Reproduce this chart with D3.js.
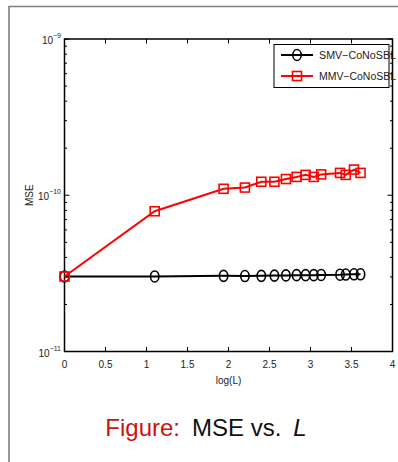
<!DOCTYPE html>
<html lang="en">
<head>
  <meta charset="UTF-8">
  <title>MSE vs. L</title>
  <script src="https://d3js.org/d3.v7.min.js"></script>
  <style>
    body { margin: 0; background: #fff; }
    #svgScene { display: block; }
    text { font-family: "Liberation Sans", Arial, sans-serif; }
  </style>
</head>
<body>
  <svg id="svgScene" width="398" height="462"></svg>

  <script>
    // data
    const logL = [0, 1.10, 1.94, 2.20, 2.40, 2.56, 2.70, 2.83, 2.94, 3.04, 3.13, 3.36, 3.43, 3.53, 3.61];
    const smvMse = [3.02e-11, 3.02e-11, 3.05e-11, 3.04e-11, 3.05e-11, 3.06e-11, 3.07e-11, 3.08e-11, 3.08e-11, 3.08e-11, 3.09e-11, 3.10e-11, 3.11e-11, 3.12e-11, 3.12e-11];
    const mmvMse = [3.02e-11, 7.9e-11, 1.10e-10, 1.12e-10, 1.22e-10, 1.22e-10, 1.27e-10, 1.31e-10, 1.35e-10, 1.31e-10, 1.36e-10, 1.39e-10, 1.35e-10, 1.46e-10, 1.39e-10];
    const xTicks = [0, 0.5, 1, 1.5, 2, 2.5, 3, 3.5, 4];
    const yExponents = [-9, -10, -11];
    const seriesNames = ["SMV\u2212CoNoSBL", "MMV\u2212CoNoSBL"];

    const svgScene = d3.select("#svgScene");
    const plot = { left: 64.5, right: 392.5, top: 39, bottom: 351.5 };

    const xScale = d3.scaleLinear().domain([0, 4]).range([plot.left, plot.right]);
    const yScale = d3.scaleLog().domain([1e-11, 1e-9]).range([plot.bottom, plot.top]);

    drawFrame();
    drawAxes();
    drawSeries(smvMse, "black", "circle");
    drawSeries(mmvMse, "#ff0000", "square");
    drawLegend();
    drawCaption();

    function drawFrame() {
      svgScene.append("path")
        .attr("d", "M9,462 V6.5 H398")
        .attr("fill", "none")
        .attr("stroke", "#808080")
        .attr("stroke-width", 1.6);
    }

    function drawAxes() {
      const g = svgScene.append("g");

      // minor and major y ticks on both sides
      const yMinor = [];
      for (let e = -11; e < -9; e++) {
        for (let m = 2; m <= 9; m++) yMinor.push(m * Math.pow(10, e));
      }
      yMinor.forEach(v => {
        const y = yScale(v);
        g.append("line").attr("x1", plot.left).attr("x2", plot.left + 2.5).attr("y1", y).attr("y2", y)
          .attr("stroke", "black").attr("stroke-width", 1);
        g.append("line").attr("x1", plot.right).attr("x2", plot.right - 2.5).attr("y1", y).attr("y2", y)
          .attr("stroke", "black").attr("stroke-width", 1);
      });
      yExponents.forEach(e => {
        const y = yScale(Math.pow(10, e));
        g.append("line").attr("x1", plot.left).attr("x2", plot.left + 5).attr("y1", y).attr("y2", y)
          .attr("stroke", "black").attr("stroke-width", 1);
        g.append("line").attr("x1", plot.right).attr("x2", plot.right - 5).attr("y1", y).attr("y2", y)
          .attr("stroke", "black").attr("stroke-width", 1);
        const t = g.append("text")
          .attr("x", plot.left - 3.5)
          .attr("y", y + 5)
          .attr("text-anchor", "end")
          .attr("font-size", "10px")
          .attr("fill", "#222");
        t.append("tspan").text("10");
        t.append("tspan").attr("dy", -6).attr("font-size", "7px").text("\u2212" + Math.abs(e));
      });

      xTicks.forEach(v => {
        const x = xScale(v);
        g.append("line").attr("x1", x).attr("x2", x).attr("y1", plot.bottom).attr("y2", plot.bottom - 4.5)
          .attr("stroke", "black").attr("stroke-width", 1);
        g.append("line").attr("x1", x).attr("x2", x).attr("y1", plot.top).attr("y2", plot.top + 4.5)
          .attr("stroke", "black").attr("stroke-width", 1);
        g.append("text")
          .attr("x", x)
          .attr("y", plot.bottom + 16)
          .attr("text-anchor", "middle")
          .attr("font-size", "10px")
          .attr("fill", "#222")
          .text(v);
      });

      g.append("rect")
        .attr("x", plot.left).attr("y", plot.top)
        .attr("width", plot.right - plot.left).attr("height", plot.bottom - plot.top)
        .attr("fill", "none").attr("stroke", "black").attr("stroke-width", 1.5);

      g.append("text")
        .attr("x", xScale(2))
        .attr("y", plot.bottom + 32)
        .attr("text-anchor", "middle")
        .attr("font-size", "10px")
        .attr("fill", "#222")
        .text("log(L)");

      g.append("text")
        .attr("transform", `translate(33, ${(plot.top + plot.bottom) / 2}) rotate(-90)`)
        .attr("text-anchor", "middle")
        .attr("font-size", "10px")
        .attr("fill", "#222")
        .text("MSE");
    }

    function drawMarker(g, x, y, shape, color) {
      if (shape === "circle") {
        g.append("ellipse").attr("cx", x).attr("cy", y).attr("rx", 4.2).attr("ry", 5.5)
          .attr("fill", "none").attr("stroke", color).attr("stroke-width", 1.6);
      } else {
        g.append("rect").attr("x", x - 4.5).attr("y", y - 4.5).attr("width", 9).attr("height", 9)
          .attr("fill", "none").attr("stroke", color).attr("stroke-width", 1.6);
      }
    }

    function drawSeries(values, color, shape) {
      const g = svgScene.append("g");
      const line = d3.line()
        .x((d, i) => xScale(logL[i]))
        .y(d => yScale(d));
      g.append("path")
        .datum(values)
        .attr("d", line)
        .attr("fill", "none")
        .attr("stroke", color)
        .attr("stroke-width", 2);
      values.forEach((v, i) => drawMarker(g, xScale(logL[i]), yScale(v), shape, color));
    }

    function drawLegend() {
      const g = svgScene.append("g");
      g.append("rect")
        .attr("x", 274).attr("y", 44.5).attr("width", 115).attr("height", 43)
        .attr("fill", "white").attr("stroke", "black").attr("stroke-width", 1);
      const colors = ["black", "#ff0000"];
      const shapes = ["circle", "square"];
      seriesNames.forEach((name, i) => {
        const y = 55 + i * 21;
        g.append("line").attr("x1", 281).attr("x2", 313).attr("y1", y).attr("y2", y)
          .attr("stroke", colors[i]).attr("stroke-width", 2);
        drawMarker(g, 297, y, shapes[i], colors[i]);
        g.append("text")
          .attr("x", 319).attr("y", y + 3.5)
          .attr("font-size", "10px")
          .attr("fill", "#222")
          .attr("textLength", 77)
          .attr("lengthAdjust", "spacingAndGlyphs")
          .text(name);
      });
    }

    function drawCaption() {
      const t = svgScene.append("text")
        .attr("x", 206)
        .attr("y", 436)
        .attr("text-anchor", "middle")
        .attr("font-family", "'DejaVu Sans', sans-serif")
        .attr("font-size", "24px");
      t.append("tspan").attr("fill", "#cc1111").text("Figure:");
      t.append("tspan").attr("fill", "#111").text("\u2002MSE vs.\u2002");
      t.append("tspan").attr("fill", "#111").attr("font-style", "italic").text("L");
    }
  </script>
</body>
</html>
